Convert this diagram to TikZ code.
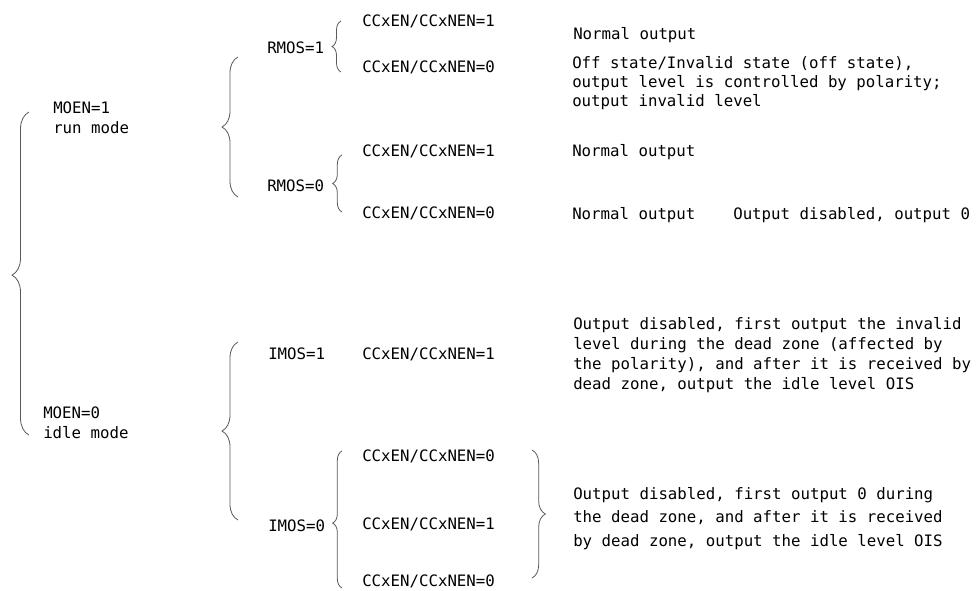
\documentclass[tikz,border=0pt]{standalone}
\usepackage{fontspec}
\setmonofont{DejaVu Sans Mono}
\usetikzlibrary{decorations.pathreplacing}

\begin{document}
\begin{tikzpicture}[x=0.75pt, y=-0.75pt,
  font=\ttfamily\fontsize{11.8}{14.25}\selectfont,
  lbl/.style={anchor=base west, inner sep=0pt},
  para/.style={anchor=north west, inner sep=0pt, align=left,
               font=\ttfamily\fontsize{11.8}{#1}\selectfont},
  brc/.style={draw=black!65, line width=0.6pt, decorate,
              decoration={brace, amplitude=#1}}]
  \useasboundingbox (0,0) rectangle (978,590);

  % mode level
  \node[para=14.5pt] (moen1) at (53,102) {MOEN=1\\run mode};
  \node[para=14.5pt] (moen0) at (43,407) {MOEN=0\\idle mode};
  \draw[brc=12.75pt, decoration={aspect=0.495}] (29,435) -- (29,112);

  % run mode
  \node[lbl] (rmos1) at (267,53)  {RMOS=1};
  \node[lbl] (rmos0) at (267,191) {RMOS=0};
  \draw[brc=12pt, decoration={aspect=0.5}] (238,197) -- (238,57);

  \node[lbl] (r11) at (362,26)  {CCxEN/CCxNEN=1};
  \node[lbl] (r10) at (362,72)  {CCxEN/CCxNEN=0};
  \node[lbl] (r01) at (362,156) {CCxEN/CCxNEN=1};
  \node[lbl] (r00) at (362,218) {CCxEN/CCxNEN=0};
  \draw[brc=6.75pt, decoration={aspect=0.5}] (341,72) -- (341,21);
  \draw[brc=7pt, decoration={aspect=0.5}] (342,212) -- (342,155);

  \node[lbl] (o11) at (573,39) {Normal output};
  \node[para=14.25pt] (o10) at (572,56)
    {Off state/Invalid state (off state),\\
     output level is controlled by polarity;\\
     output invalid level};
  \node[lbl] (o01) at (572,156) {Normal output};
  \node[lbl] (o00) at (572,219)
    {Normal output\ \ \ \ Output disabled, output 0};

  % idle mode
  \node[lbl] (imos1) at (268,359) {IMOS=1};
  \node[lbl] (imos0) at (268,531) {IMOS=0};
  \draw[brc=12pt, decoration={aspect=0.5}] (238,520) -- (238,342);

  \node[lbl] (i11) at (362,359) {CCxEN/CCxNEN=1};
  \node[lbl] (i0a) at (362,461) {CCxEN/CCxNEN=0};
  \node[lbl] (i0b) at (362,529) {CCxEN/CCxNEN=1};
  \node[lbl] (i0c) at (362,586) {CCxEN/CCxNEN=0};
  \draw[brc=7pt, decoration={aspect=0.474}] (342,588) -- (342,451);
  \draw[brc=10pt, decoration={aspect=0.5}] (532,450) -- (532,578);

  \node[para=15pt] (p1) at (573,317)
    {Output disabled, first output the invalid\\
     level during the dead zone (affected by\\
     the polarity), and after it is received by\\
     dead zone, output the idle level OIS};
  \node[para=17.6pt] (p0) at (573,487)
    {Output disabled, first output 0 during\\
     the dead zone, and after it is received\\
     by dead zone, output the idle level OIS};
\end{tikzpicture}
\end{document}
